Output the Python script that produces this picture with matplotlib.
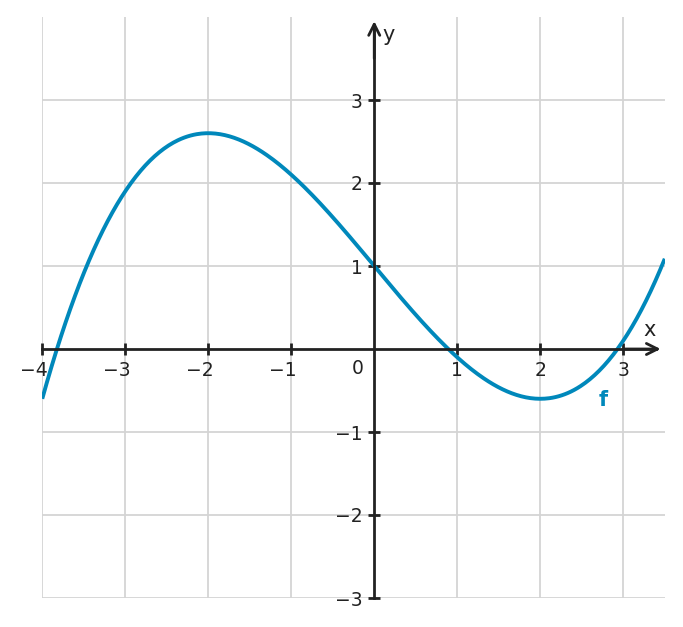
import numpy as np
import matplotlib.pyplot as plt
from matplotlib.transforms import ScaledTranslation

# f(x) = 0.1x^3 - 1.2x + 1  (max at (-2, 2.6), min at (2, -0.6), f(0) = 1)
f_coeffs = [0.1, 0.0, -1.2, 1.0]
x_range = [-4, 3.5]
y_range = [-3, 4]
x_ticks = [-4, -3, -2, -1, 1, 2, 3]
y_ticks = [-3, -2, -1, 1, 2, 3]

blue = '#0088bb'
dark = '#222222'

fig = plt.figure(figsize=(6.83, 6.27), dpi=100)
ax = fig.add_axes([42 / 683, 1 - 598 / 627, 623 / 683, 581 / 627])

x = np.linspace(x_range[0], x_range[1], 400)
ax.plot(x, np.polyval(f_coeffs, x), color=blue, lw=2.8, solid_capstyle='butt', zorder=3)
ax.text(2.76, -0.61, 'f', color=blue, fontsize=15, fontweight='bold', ha='center', va='center')

ax.set_xlim(x_range)
ax.set_ylim(y_range)
ax.set_aspect('equal')

for side in ['top', 'right']:
    ax.spines[side].set_visible(False)
ax.spines['left'].set_position('zero')
ax.spines['bottom'].set_position('zero')
ax.spines['left'].set_bounds(-3, 3.9)
ax.spines['bottom'].set_bounds(-4, 3.4)
for side in ['left', 'bottom']:
    ax.spines[side].set_color(dark)
    ax.spines[side].set_linewidth(2)
    ax.spines[side].set_zorder(4)

arrow = dict(arrowstyle='->', color=dark, lw=2, mutation_scale=20, shrinkA=0, shrinkB=0)
ax.annotate('', xy=(0, 3.95), xytext=(0, 3.5), arrowprops=arrow, zorder=5)
ax.annotate('', xy=(3.45, 0), xytext=(3.0, 0), arrowprops=arrow, zorder=5)
ax.text(0.1, 3.78, 'y', fontsize=15, color=dark, ha='left', va='center')
ax.text(3.32, 0.23, 'x', fontsize=15, color=dark, ha='center', va='center')

ax.set_xticks(x_ticks)
ax.set_yticks(y_ticks)
ax.set_xticklabels([str(t).replace('-', '\u2212') for t in x_ticks])
ax.set_yticklabels([str(t).replace('-', '\u2212') for t in y_ticks])
ax.tick_params(direction='inout', length=9, width=2, color=dark, labelcolor=dark,
               labelsize=13.5, pad=4)

# keep the digit centred on the tick, minus sign hanging left
shift = ScaledTranslation(-8 / 100, 0, fig.dpi_scale_trans)
for t, lab in zip(x_ticks, ax.get_xticklabels()):
    if t < 0:
        lab.set_transform(lab.get_transform() + shift)

ax.text(-0.2, -0.23, '0', fontsize=13.5, color=dark, ha='center', va='center')

ax.grid(True, color='#d4d4d4', lw=1.3, zorder=0)
ax.set_axisbelow(True)

fig.savefig('out.png', dpi=100)
